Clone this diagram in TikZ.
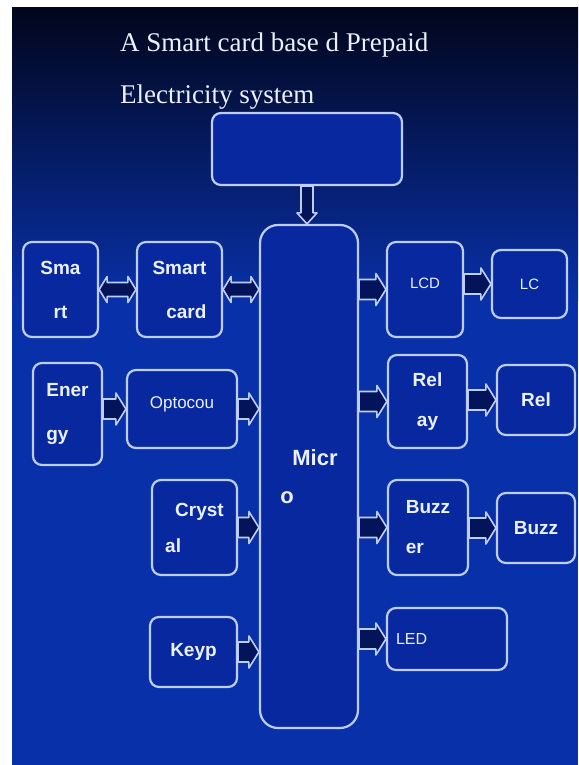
\documentclass[tikz,border=0pt]{standalone}
\usepackage{fontspec}
\setmainfont{Liberation Sans}
\newfontfamily\titlefont{Liberation Serif}
\usetikzlibrary{calc}
\definecolor{bg_top}{RGB}{2, 6, 28}
\definecolor{bg_mid}{RGB}{6, 30, 110}
\definecolor{bg_blue}{RGB}{8, 48, 168}
\definecolor{box_fill}{RGB}{8, 40, 160}
\definecolor{box_line}{RGB}{190, 205, 255}
\definecolor{arr_fill}{RGB}{4, 20, 90}
\definecolor{label_white}{RGB}{235, 240, 255}
\tikzstyle{blkbox}=[rectangle,rounded corners=9pt,fill=box_fill,draw=box_line,
  line width=2.2pt,text=label_white,inner sep=2pt,
  font=\bfseries\fontsize{19}{44}\selectfont]
\tikzstyle{blk}=[fill=arr_fill,draw=box_line,line width=1.6pt,line join=round]
\tikzstyle{ttl}=[text=label_white,inner sep=0pt,
  font=\titlefont\fontsize{27}{30}\selectfont]
% hollow block arrow, tip at the second point
\newcommand{\harrow}[2]{%
  \draw [style=blk] let \p1=(#1), \p2=(#2) in
    (\x1,\y1+10pt) -- (\x2-10pt,\y1+10pt) -- (\x2-10pt,\y1+16pt) -- (\x2,\y1)
    -- (\x2-10pt,\y1-16pt) -- (\x2-10pt,\y1-10pt) -- (\x1,\y1-10pt) -- cycle;}
% the same with a tip at both ends
\newcommand{\dharrow}[2]{%
  \draw [style=blk] let \p1=(#1), \p2=(#2) in
    (\x1,\y1) -- (\x1+8pt,\y1+13pt) -- (\x1+8pt,\y1+7pt) -- (\x2-8pt,\y1+7pt)
    -- (\x2-8pt,\y1+13pt) -- (\x2,\y1) -- (\x2-8pt,\y1-13pt) -- (\x2-8pt,\y1-7pt)
    -- (\x1+8pt,\y1-7pt) -- (\x1+8pt,\y1-13pt) -- cycle;}
\begin{document}
\begin{tikzpicture}[x=1pt,y=-1pt]
    \useasboundingbox (0,0) rectangle (578,765);
    \fill [white] (0,0) rectangle (578,765);
    \shade [top color=bg_top,middle color=bg_mid,bottom color=bg_blue] (12,8) rectangle (578,300);
    \fill [bg_blue] (12,300) rectangle (578,765);
    % title
    \node [style=ttl,anchor=base west] (title1) at (120,52) {A Smart card base d Prepaid};
    \node [style=ttl,anchor=base west] (title2) at (120,103) {Electricity system};
    % middle
    \node [style=blkbox,minimum width=190pt,minimum height=72pt] (top) at (307,149) {};
    \node [style=blkbox,rounded corners=18pt,minimum width=98pt,minimum height=503pt,
      align=left,font=\bfseries\fontsize{22}{38}\selectfont] (micro) at (309,476.5) {\hspace*{12pt}Micr\\o};
    % left
    \node [style=blkbox,minimum width=75pt,minimum height=95pt,align=center] (smt) at (60.5,289.5) {Sma\\rt};
    \node [style=blkbox,minimum width=85pt,minimum height=95pt,align=right] (scard) at (179.5,289.5) {Smart\\card};
    \node [style=blkbox,minimum width=69pt,minimum height=102pt,align=left] (energy) at (67.5,414) {Ener\\gy};
    \node [style=blkbox,minimum width=110pt,minimum height=78pt,text depth=12pt,
      font=\fontsize{17}{20}\selectfont] (opto) at (182,409) {Optocou};
    \node [style=blkbox,minimum width=85pt,minimum height=95pt,align=left,
      font=\bfseries\fontsize{19}{36}\selectfont] (crystal) at (194.5,527.5) {\hspace*{10pt}Cryst\\al};
    \node [style=blkbox,minimum width=87pt,minimum height=70pt] (keyp) at (193.5,652) {Keyp};
    % right
    \node [style=blkbox,minimum width=76pt,minimum height=95pt,text depth=12pt,
      font=\fontsize{15}{18}\selectfont] (lcd) at (425,289.5) {LCD};
    \node [style=blkbox,minimum width=75pt,minimum height=68pt,
      font=\fontsize{15}{18}\selectfont] (lc) at (529.5,284) {LC};
    \node [style=blkbox,minimum width=79pt,minimum height=93pt,align=center,
      font=\bfseries\fontsize{19}{40}\selectfont] (relay) at (427.5,401.5) {Rel\\ay};
    \node [style=blkbox,minimum width=78pt,minimum height=70pt] (rel) at (536,400) {Rel};
    \node [style=blkbox,minimum width=80pt,minimum height=95pt,align=left,
      font=\bfseries\fontsize{19}{40}\selectfont] (buzzer) at (428,527.5) {Buzz\\er};
    \node [style=blkbox,minimum width=78pt,minimum height=70pt] (buzz) at (536,528) {Buzz};
    \node [style=blkbox,minimum width=120pt,minimum height=62pt,text width=102pt,align=left,
      font=\fontsize{16}{19}\selectfont] (led) at (447,639) {LED};
    % arrows
    \draw [style=blk] let \p1=(top.south), \p2=(micro.north) in
      (\x1-6pt,\y1) -- (\x1-6pt,\y2+11pt) -- (\x1-10pt,\y2+11pt) -- (\x1,\y2)
      -- (\x1+10pt,\y2+11pt) -- (\x1+6pt,\y2+11pt) -- (\x1+6pt,\y1) -- cycle;
    \dharrow{smt.east}{scard.west}
    \dharrow{scard.east}{micro.west |- scard.east}
    \harrow{energy.east |- opto.west}{opto.west}
    \harrow{opto.east}{micro.west |- opto.east}
    \harrow{crystal.east}{micro.west |- crystal.east}
    \harrow{keyp.east}{micro.west |- keyp.east}
    \harrow{micro.east |- lcd.west}{lcd.west}
    \harrow{lcd.east |- lc.west}{lc.west}
    \harrow{micro.east |- relay.west}{relay.west}
    \harrow{relay.east |- rel.west}{rel.west}
    \harrow{micro.east |- buzzer.west}{buzzer.west}
    \harrow{buzzer.east |- buzz.west}{buzz.west}
    \harrow{micro.east |- led.west}{led.west}
\end{tikzpicture}
\end{document}
